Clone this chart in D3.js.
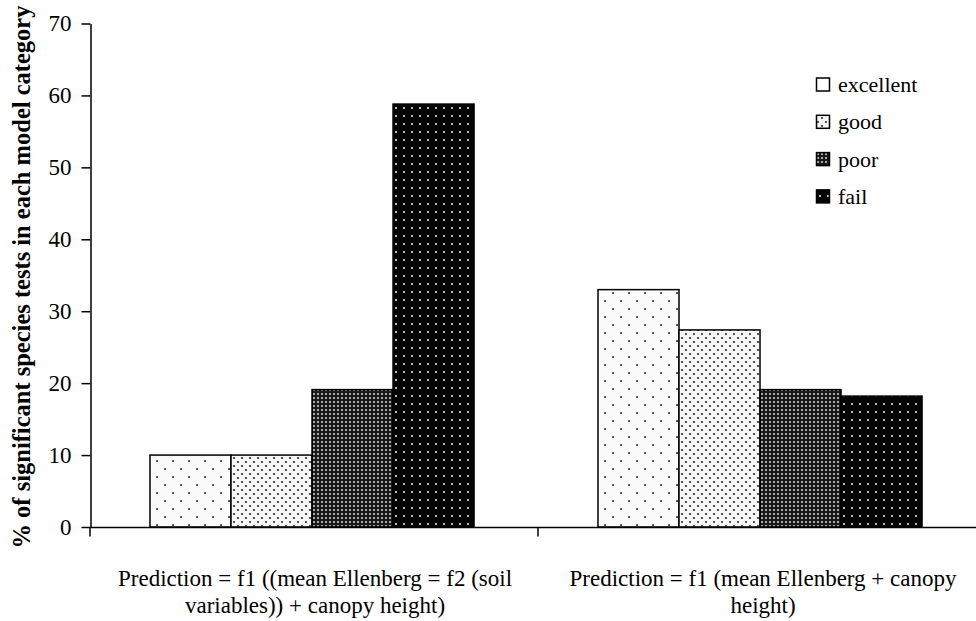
<!DOCTYPE html>
<html><head><meta charset="utf-8">
<script src="https://cdn.jsdelivr.net/npm/d3@7"></script>
<style>html,body{margin:0;padding:0;background:#fff;}svg{display:block;}
svg text{font-family:"Liberation Serif","Times New Roman","DejaVu Serif",serif;}</style>
</head><body>
<svg id="chart" width="976" height="621"></svg>
<script>
const groups = ["Prediction = f1 ((mean Ellenberg = f2 (soil|variables)) + canopy height)",
                "Prediction = f1 (mean Ellenberg + canopy|height)"];
const series = ["excellent", "good", "poor", "fail"];
const excellentVals = [10, 33.0];
const goodVals = [10, 27.4];
const poorVals = [19.1, 19.1];
const failVals = [58.8, 18.2];
const yTicks = [0, 10, 20, 30, 40, 50, 60, 70];
const yLabel = "% of significant species tests in each model category";

const valuesBySeries = {excellent: excellentVals, good: goodVals, poor: poorVals, fail: failVals};

const svg = d3.select("#chart");

// patterns
const defs = svg.append("defs");
function pat(id, size, bg, dots, dotColor, dotSize) {
  const p = defs.append("pattern").attr("id", id).attr("patternUnits", "userSpaceOnUse")
    .attr("width", size).attr("height", size);
  p.append("rect").attr("width", size).attr("height", size).attr("fill", bg);
  dots.forEach(d => p.append("rect").attr("x", d[0]).attr("y", d[1])
    .attr("width", dotSize).attr("height", dotSize).attr("fill", dotColor));
}
pat("p-excellent", 16, "#fbfbfb", [[4,4],[12,12]], "#555", 2);
pat("p-good", 8, "#f6f6f6", [[1,1],[5,5]], "#555", 2);
pat("p-poor", 4, "#1a1a1a", [[1,1]], "#a8a8a8", 2);
pat("p-fail", 8, "#050505", [[3,3]], "#bdbdbd", 2);

const y = d3.scaleLinear().domain([0, 70]).range([527, 23.5]);
const x0 = d3.scaleBand().domain(groups).range([90, 986]).padding(0);
const x1 = d3.scaleBand().domain(series).range([0, x0.bandwidth()])
  .paddingInner(0).paddingOuter(0.765).align(0.484);

// bars
const g = svg.append("g");
groups.forEach((grp, gi) => {
  series.forEach(s => {
    const v = valuesBySeries[s][gi];
    g.append("rect")
      .attr("x", x0(grp) + x1(s))
      .attr("y", y(v))
      .attr("width", x1.bandwidth())
      .attr("height", y(0) - y(v))
      .attr("fill", `url(#p-${s})`)
      .attr("stroke", "#000").attr("stroke-width", 1.5);
  });
});

// y axis
const yAxis = d3.axisLeft(y).tickValues(yTicks).tickSize(9).tickPadding(10).tickSizeOuter(0);
const ya = svg.append("g").attr("transform", "translate(90.5,0)").call(yAxis);
ya.select(".domain").attr("stroke", "#000").attr("stroke-width", 1.5);
ya.selectAll(".tick line").attr("stroke", "#000").attr("stroke-width", 1.5);
ya.selectAll(".tick text").attr("font-family", null).attr("font-size", 23).attr("fill", "#000");

// x axis
const xa = svg.append("g").attr("transform", "translate(0,527.5)");
xa.append("line").attr("x1", 90).attr("x2", 986).attr("stroke", "#000").attr("stroke-width", 1.5);
const bounds = groups.map(d => x0(d)).concat([x0(groups[groups.length-1]) + x0.bandwidth()]);
xa.selectAll("line.tk").data(bounds).enter().append("line").attr("class", "tk")
  .attr("x1", d => d).attr("x2", d => d).attr("y1", 0).attr("y2", 9)
  .attr("stroke", "#000").attr("stroke-width", 1.5);

// category labels
groups.forEach(grp => {
  const lines = grp.split("|");
  const t = svg.append("text").attr("font-size", 23)
    .attr("text-anchor", "middle").attr("fill", "#000");
  lines.forEach((ln, i) => t.append("tspan").attr("x", x0(grp) + x0.bandwidth() / 2 + 1)
    .attr("y", 586 + i * 27).text(ln));
});

// y label
svg.append("text").attr("font-size", 24.5).attr("font-weight", "bold")
  .attr("text-anchor", "middle").attr("fill", "#000")
  .attr("transform", "translate(30,277) rotate(-90)").text(yLabel);

// legend
const leg = svg.append("g");
series.forEach((s, i) => {
  const cy = 85 + i * 37.3;
  leg.append("rect").attr("x", 816.5).attr("y", cy - 7).attr("width", 13).attr("height", 13)
    .attr("fill", s === "excellent" ? "#fff" : `url(#p-${s})`).attr("stroke", "#000").attr("stroke-width", 1.5);
  leg.append("text").attr("x", 838).attr("y", cy + 7).attr("font-size", 22)
    .attr("fill", "#000").text(s);
});
</script>
</body></html>
